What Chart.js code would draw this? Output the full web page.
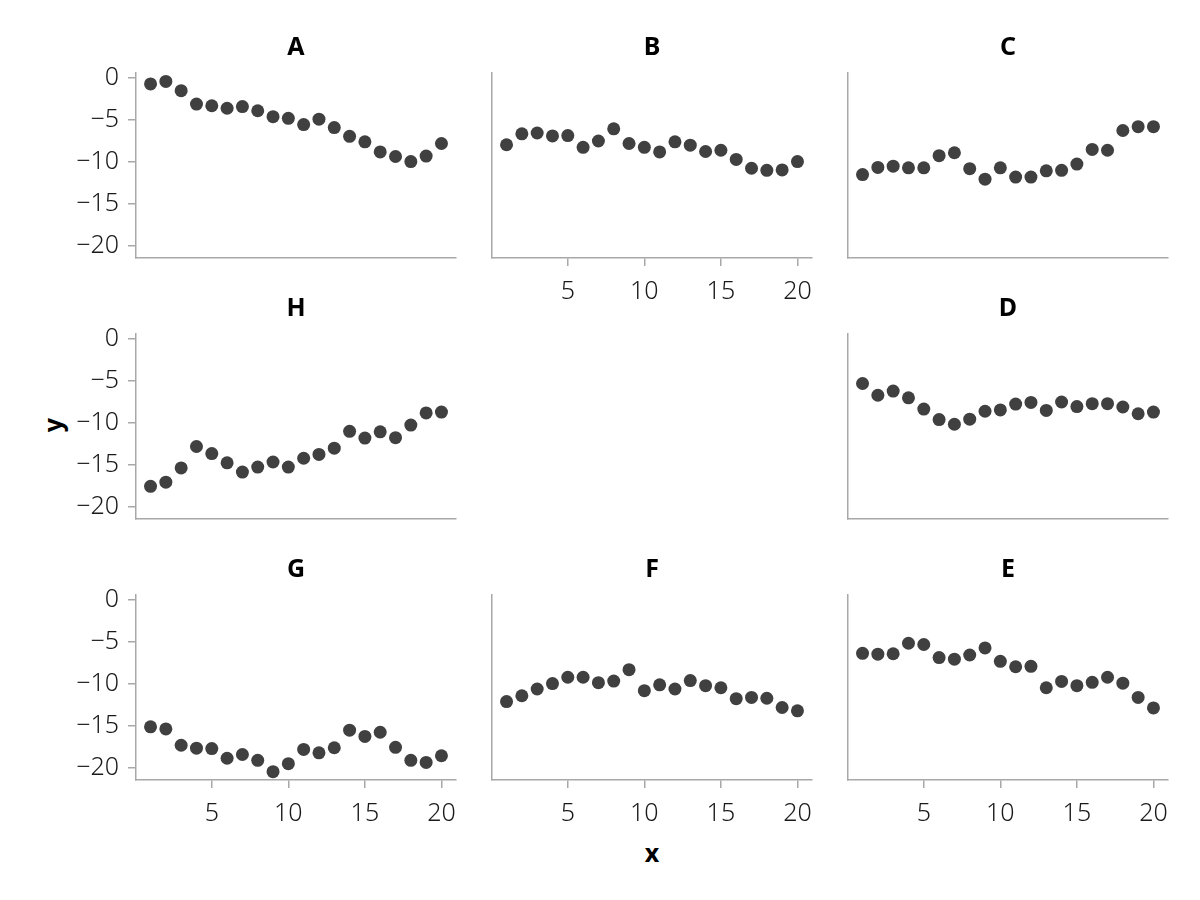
<!DOCTYPE html>
<html lang="en">
<head>
    <meta charset="UTF-8">
    <title>Facetas</title>
    <script src="https://cdn.jsdelivr.net/npm/chart.js"></script>
    <style>
        body { margin: 0; background: #fff; }
        #wrap { position: relative; width: 1200px; height: 900px; background: #fff; }
        canvas { position: absolute; }
        .lab { position: absolute; font-family: 'Noto Sans', sans-serif; font-weight: bold; font-size: 25px; line-height: 1; color: #000; }
    </style>
</head>
<body>
<div id="wrap">
    <div class="lab" style="left:52px; top:425px; transform: translate(-50%, -50%) rotate(-90deg);">y</div>
    <div class="lab" style="left:652px; top:852px; transform: translate(-50%, -50%);">x</div>
</div>

<script>
    // datos
    const xValues = [1, 2, 3, 4, 5, 6, 7, 8, 9, 10, 11, 12, 13, 14, 15, 16, 17, 18, 19, 20];
    const seriesA = [-0.7, -0.4, -1.5, -3.1, -3.3, -3.6, -3.4, -3.9, -4.6, -4.8, -5.55, -4.9, -5.9, -6.95, -7.6, -8.8, -9.35, -9.95, -9.3, -7.8];
    const seriesB = [-7.95, -6.65, -6.55, -6.9, -6.85, -8.25, -7.5, -6.05, -7.8, -8.25, -8.8, -7.6, -8.0, -8.75, -8.6, -9.7, -10.75, -11.0, -10.95, -9.95];
    const seriesC = [-11.5, -10.65, -10.5, -10.7, -10.7, -9.25, -8.9, -10.8, -12.05, -10.7, -11.8, -11.8, -11.05, -11.0, -10.25, -8.5, -8.6, -6.25, -5.8, -5.8];
    const seriesD = [-5.3, -6.7, -6.2, -7.0, -8.35, -9.6, -10.15, -9.55, -8.6, -8.45, -7.75, -7.55, -8.5, -7.5, -8.05, -7.7, -7.7, -8.1, -8.9, -8.7];
    const seriesE = [-6.35, -6.45, -6.4, -5.15, -5.3, -6.85, -7.05, -6.55, -5.7, -7.3, -7.95, -7.9, -10.45, -9.7, -10.2, -9.8, -9.2, -9.9, -11.6, -12.85];
    const seriesF = [-12.1, -11.4, -10.6, -9.95, -9.2, -9.2, -9.85, -9.65, -8.3, -10.8, -10.1, -10.6, -9.6, -10.2, -10.45, -11.75, -11.6, -11.7, -12.8, -13.2];
    const seriesG = [-15.1, -15.35, -17.3, -17.65, -17.7, -18.85, -18.4, -19.1, -20.45, -19.5, -17.8, -18.2, -17.6, -15.5, -16.25, -15.75, -17.55, -19.1, -19.35, -18.55];
    const seriesH = [-17.55, -17.05, -15.35, -12.8, -13.65, -14.75, -15.85, -15.25, -14.65, -15.25, -14.2, -13.75, -13.0, -11.0, -11.8, -11.05, -11.75, -10.25, -8.8, -8.7];
    const xTicks = [5, 10, 15, 20];
    const yTicks = [-20, -15, -10, -5, 0];

    // paneles: columna, fila, ejes visibles
    const panels = [
        { name: 'A', values: seriesA, col: 0, row: 0, showX: false },
        { name: 'B', values: seriesB, col: 1, row: 0, showX: true },
        { name: 'C', values: seriesC, col: 2, row: 0, showX: false },
        { name: 'H', values: seriesH, col: 0, row: 1, showX: false },
        { name: 'D', values: seriesD, col: 2, row: 1, showX: false },
        { name: 'G', values: seriesG, col: 0, row: 2, showX: true },
        { name: 'F', values: seriesF, col: 1, row: 2, showX: true },
        { name: 'E', values: seriesE, col: 2, row: 2, showX: true }
    ];

    const fontFamily = "'Noto Sans', sans-serif";
    const axisColor = '#a8a8a8';
    const fmt = v => (v < 0 ? '\u2212' + Math.abs(v) : String(v));

    const wrap = document.getElementById('wrap');

    panels.forEach(p => {
        const plotLeft = 136 + 356 * p.col;
        const plotTop = 73 + 261 * p.row;
        const showY = p.col === 0;

        const canvas = document.createElement('canvas');
        canvas.width = 440;
        canvas.height = 320;
        canvas.style.left = (plotLeft - 100) + 'px';
        canvas.style.top = (plotTop - 60) + 'px';
        wrap.appendChild(canvas);

        new Chart(canvas.getContext('2d'), {
            type: 'scatter',
            data: {
                datasets: [{
                    data: xValues.map((x, i) => ({ x: x, y: p.values[i] })),
                    backgroundColor: '#404040',
                    borderWidth: 0,
                    pointRadius: 6.5,
                    pointHoverRadius: 6.5,
                    clip: false
                }]
            },
            options: {
                responsive: false,
                animation: false,
                layout: { padding: { right: 20 } },
                plugins: {
                    legend: { display: false },
                    tooltip: { enabled: false },
                    title: {
                        display: true,
                        text: p.name,
                        fullSize: false,
                        color: '#000',
                        font: { family: fontFamily, size: 25, weight: 'bold', lineHeight: 1.2 },
                        padding: { top: 20, bottom: 10 }
                    }
                },
                scales: {
                    x: {
                        type: 'linear',
                        min: 0.05,
                        max: 20.95,
                        afterBuildTicks: s => { s.ticks = xTicks.map(v => ({ value: v })); },
                        afterFit: s => { s.height = 75; },
                        grid: { drawOnChartArea: false, drawTicks: p.showX, tickLength: 8, color: axisColor, lineWidth: 1.5 },
                        border: { display: true, color: axisColor, width: 1.5 },
                        ticks: {
                            display: p.showX,
                            autoSkip: false,
                            maxRotation: 0,
                            padding: 11,
                            color: '#1a1a1a',
                            font: { family: fontFamily, size: 25, weight: 300 },
                            callback: fmt
                        }
                    },
                    y: {
                        type: 'linear',
                        min: -21.44,
                        max: 0.6,
                        afterBuildTicks: s => { s.ticks = yTicks.map(v => ({ value: v })); },
                        afterFit: s => { s.width = 100; },
                        grid: { drawOnChartArea: false, drawTicks: showY, tickLength: 8, color: axisColor, lineWidth: 1.5 },
                        border: { display: true, color: axisColor, width: 1.5 },
                        ticks: {
                            display: showY,
                            padding: 9,
                            color: '#1a1a1a',
                            font: { family: fontFamily, size: 25, weight: 300 },
                            callback: fmt
                        }
                    }
                }
            }
        });
    });
</script>
</body>
</html>
